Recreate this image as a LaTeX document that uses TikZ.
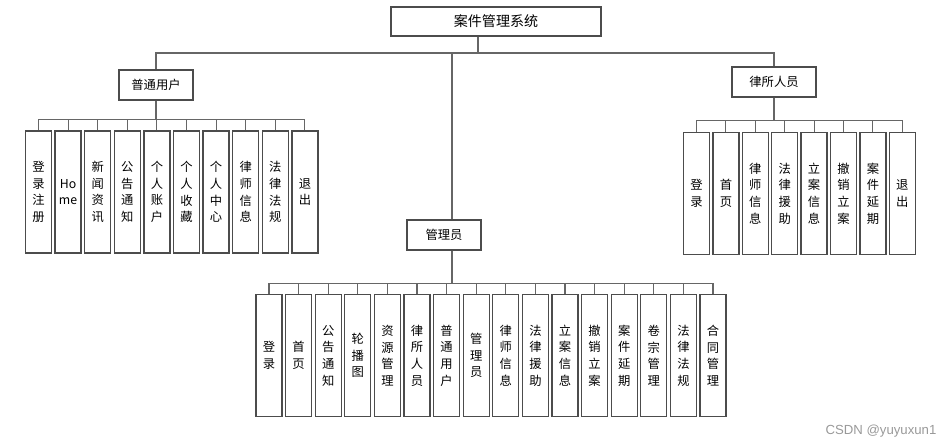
\documentclass[tikz,border=0pt]{standalone}
\usepackage{fontspec}
\setmainfont{Liberation Sans}
\newfontfamily\cjk{Noto Sans CJK SC}

\begin{document}
\begin{tikzpicture}[
	x=0.02cm, y=-0.02cm,
	font=\cjk\fontsize{7}{9.5}\selectfont,
	title/.style={
		rectangle, draw=black!70, fill=white, line width=0.7pt,
		minimum width=4.2cm, minimum height=0.58cm, inner sep=1pt,
		font=\cjk\fontsize{8}{9}\selectfont
	},
	role/.style={
		rectangle, draw=black!70, fill=white, line width=0.7pt,
		minimum width=1.48cm, minimum height=0.6cm, inner sep=1pt
	},
	leaf/.style={
		rectangle, draw=black!70, fill=white, line width=0.7pt,
		minimum width=0.52cm, minimum height=2.44cm,
		align=center, inner sep=0pt
	},
	link/.style={draw=black!60, line width=0.6pt}
]
\useasboundingbox (0,0) rectangle (950,447);

% Root and the three roles
\node[title] (sys) at (496, 21.5) {案件管理系统};
\node[role] (user) at (156, 85) {普通用户};
\node[role, minimum width=1.68cm] (firm) at (774, 82) {律所人员};
\node[role] (admin) at (444, 235) {管理员};

% Main bus y=53
\coordinate (hub) at (478, 53);
\draw[link] (hub |- sys.south) -- (hub);
\draw[link] (hub) -| (user.north);
\draw[link] (hub) -| (firm.north);
\draw[link] (hub) -| ([xshift=0.16cm]admin.north);

% Left group, row y=192
\node[leaf] (u1)  at ( 38.5, 192) {登\\录\\注\\册};
\node[leaf] (u2)  at ( 68.1, 192) {Ho\\me};
\node[leaf] (u3)  at ( 97.7, 192) {新\\闻\\资\\讯};
\node[leaf] (u4)  at (127.3, 192) {公\\告\\通\\知};
\node[leaf] (u5)  at (156.9, 192) {个\\人\\账\\户};
\node[leaf] (u6)  at (186.5, 192) {个\\人\\收\\藏};
\node[leaf] (u7)  at (216.1, 192) {个\\人\\中\\心};
\node[leaf] (u8)  at (245.7, 192) {律\\师\\信\\息};
\node[leaf] (u9)  at (275.3, 192) {法\\律\\法\\规};
\node[leaf] (u10) at (304.9, 192) {退\\出};

\foreach \n in {u1,u2,u3,u4,u5,u6,u7,u8,u9,u10}
	\draw[link] (user.south) -- ++(0,19) -| (\n.north);

% Right group, row y=193.5
\node[leaf] (f1) at (696.5, 193.5) {登\\录};
\node[leaf] (f2) at (725.9, 193.5) {首\\页};
\node[leaf] (f3) at (755.3, 193.5) {律\\师\\信\\息};
\node[leaf] (f4) at (784.7, 193.5) {法\\律\\援\\助};
\node[leaf] (f5) at (814.1, 193.5) {立\\案\\信\\息};
\node[leaf] (f6) at (843.5, 193.5) {撤\\销\\立\\案};
\node[leaf] (f7) at (872.9, 193.5) {案\\件\\延\\期};
\node[leaf] (f8) at (902.3, 193.5) {退\\出};

\foreach \n in {f1,f2,f3,f4,f5,f6,f7,f8}
	\draw[link] (firm.south) -- ++(0,23) -| (\n.north);

% Bottom group, row y=355.5
\node[leaf] (a1)  at (269.0, 355.5) {登\\录};
\node[leaf] (a2)  at (298.6, 355.5) {首\\页};
\node[leaf] (a3)  at (328.2, 355.5) {公\\告\\通\\知};
\node[leaf] (a4)  at (357.8, 355.5) {轮\\播\\图};
\node[leaf] (a5)  at (387.4, 355.5) {资\\源\\管\\理};
\node[leaf] (a6)  at (417.0, 355.5) {律\\所\\人\\员};
\node[leaf] (a7)  at (446.6, 355.5) {普\\通\\用\\户};
\node[leaf] (a8)  at (476.2, 355.5) {管\\理\\员};
\node[leaf] (a9)  at (505.8, 355.5) {律\\师\\信\\息};
\node[leaf] (a10) at (535.4, 355.5) {法\\律\\援\\助};
\node[leaf] (a11) at (565.0, 355.5) {立\\案\\信\\息};
\node[leaf] (a12) at (594.6, 355.5) {撤\\销\\立\\案};
\node[leaf] (a13) at (624.2, 355.5) {案\\件\\延\\期};
\node[leaf] (a14) at (653.8, 355.5) {卷\\宗\\管\\理};
\node[leaf] (a15) at (683.4, 355.5) {法\\律\\法\\规};
\node[leaf] (a16) at (713.0, 355.5) {合\\同\\管\\理};

\foreach \n in {a1,a2,a3,a4,a5,a6,a7,a8,a9,a10,a11,a12,a13,a14,a15,a16}
	\draw[link] ([xshift=0.16cm]admin.south) -- ++(0,33) -| (\n.north);

% Watermark
\node[text=black!40, font=\fontsize{7.5}{9}\selectfont] (mark) at (881, 431) {CSDN @yuyuxun1};

\end{tikzpicture}
\end{document}
